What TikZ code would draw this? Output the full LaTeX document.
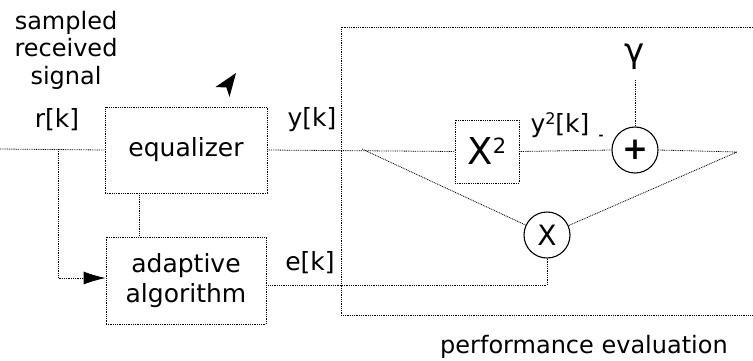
\documentclass[tikz,border=0pt]{standalone}
\usepackage{fontspec}
\setmainfont{DejaVu Sans}
\usetikzlibrary{arrows.meta}
\begin{document}
\begin{tikzpicture}[x=1pt,y=-1pt,
  dl/.style={line width=0.8pt, dash pattern=on 0.9pt off 0.9pt},
  blk/.style={dl, draw, rectangle, inner sep=0pt},
  op/.style={draw, circle, line width=1.1pt, inner sep=0pt, minimum size=46pt},
  lbl/.style={font=\fontsize{25}{30}\selectfont, inner sep=0pt, align=center}]
\useasboundingbox (0,0) rectangle (753,360);
% blocks
\node[blk, lbl, minimum width=162pt, minimum height=86pt] (eq) at (186,150) {equalizer};
\node[blk, lbl, minimum width=160pt, minimum height=87pt] (ad) at (186,280.5) {adaptive\\algorithm};
\node[blk, minimum width=64pt, minimum height=63pt, font=\fontsize{37}{37}\selectfont] (sq) at (487,151.5) {X\raisebox{0.55ex}{\fontsize{21}{21}\selectfont 2}};
\node[op, font=\fontsize{31}{31}\selectfont\bfseries] (pl) at (635,150) {+};
\node[op, font=\fontsize{28}{28}\selectfont] (mx) at (547,235) {X};
% labels
\node[lbl, font=\fontsize{24}{27.5}\selectfont] (src) at (66,50) {sampled\\received\\signal};
\node[lbl] (rk) at (57,120) {r[k]};
\node[lbl] (yk) at (312,120) {y[k]};
\node[lbl] (ek) at (310,263) {e[k]};
\node[lbl] (y2) at (560,125) {y\raisebox{0.6ex}{\fontsize{16}{16}\selectfont 2}[k]};
\node[lbl, font=\fontsize{34}{34}\selectfont] (gm) at (635,57) {γ};
\node[lbl, font=\fontsize{12}{12}\selectfont\bfseries] (mn) at (601,137) {-};
\node[lbl, font=\fontsize{24}{30}\selectfont] (pe) at (584,347) {performance evaluation};
% coordinates
\coordinate (in) at (0,149);
\coordinate (br) at (58,149);
\coordinate (ld) at (362,149);
\coordinate (rc) at (737,152);
% performance evaluation frame
\draw[dl] (753,27) -- (341,27) -- (341,315) -- (753,315);
% connectors
\draw[dl] (in) -- (eq.west);
\draw[dl, -{Latex[length=22pt,width=13pt]}] (br) |- ([yshift=2.5pt]ad.west);
\draw[dl] (eq.east) -- (sq.west);
\draw[dl] (ld) -- (mx);
\draw[dl] (sq.east) -- (pl.west);
\draw[dl] (pl.east) -- (rc) -- (mx);
\draw[dl] (gm.south) ++(0,10) -- (pl.north);
\draw[dl] ([xshift=-47pt]eq.south) -- ([xshift=-47pt]ad.north);
\draw[dl] ([yshift=-4.5pt]ad.east) -| (mx.south);
% adjustment arrowhead
\fill (236,73) -- (229.5,97) -- (226.4,87.5) -- (215.5,87) -- cycle;
\end{tikzpicture}
\end{document}
